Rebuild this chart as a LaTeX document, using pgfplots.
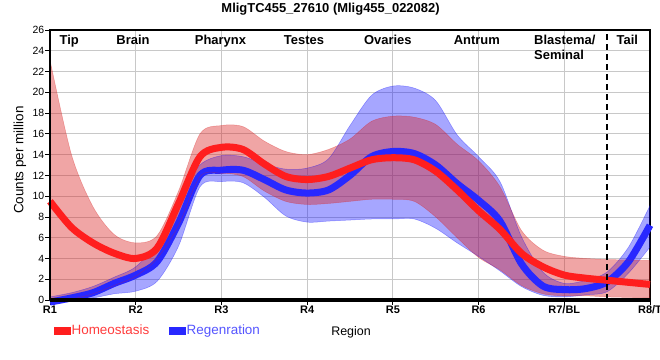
\documentclass[border=0pt]{standalone}
\usepackage{pgfplots}
\pgfplotsset{compat=1.18}
\usepackage{pgfplotstable}
\usepgfplotslibrary{fillbetween}
\usepackage{fontspec}
\setmainfont{Liberation Sans}
\definecolor{hline}{RGB}{255,30,30}
\definecolor{hband}{RGB}{217,30,30}
\definecolor{rline}{RGB}{40,40,255}
\definecolor{rband}{RGB}{0,0,255}
\definecolor{htext}{RGB}{255,60,60}
\definecolor{rtext}{RGB}{85,85,255}
\definecolor{gridc}{RGB}{200,200,200}

\pgfplotstableread{
x up mean lo
0 23.1 9.5 0
0.25 14.0 7.0 0.1
0.5 9.0 5.5 0.6
0.75 6.3 4.5 1.4
1 5.5 4.0 2.3
1.25 6.2 5.0 4.0
1.5 10.5 9.3 7.2
1.75 16.0 13.8 11.9
2 16.8 14.7 12.2
2.25 16.7 14.5 11.9
2.5 15.3 13.1 10.5
2.75 14.3 11.9 9.5
3 14.0 11.6 9.2
3.25 14.5 11.9 9.3
3.5 15.5 12.7 9.5
3.75 17.2 13.5 9.7
4 17.7 13.7 9.7
4.25 17.6 13.5 9.5
4.5 16.9 12.4 8.0
4.75 15.0 10.6 6.0
5 13.4 8.6 4.1
5.25 10.9 6.8 2.9
5.5 6.7 4.5 1.4
5.75 4.8 3.2 0.6
6 4.2 2.4 0.4
6.25 4.0 2.1 0.4
6.5 3.9 1.9 0.3
6.75 3.85 1.7 0.25
7 3.8 1.5 0.2
}\homeo

\pgfplotstableread{
x up mean lo
0 0.3 -0.2 0
0.25 0.7 0.2 0
0.5 1.3 0.7 0.2
0.75 2.2 1.6 0.6
1 3.2 2.4 0.85
1.25 5.5 3.7 1.8
1.5 9.8 7.4 5.2
1.75 13.0 12.0 10.9
2 13.9 12.5 11.4
2.25 13.8 12.5 11.3
2.5 13.1 11.6 9.9
2.75 12.6 10.6 8.1
3 12.7 10.3 7.5
3.25 13.6 10.6 7.6
3.5 16.8 12.0 7.7
3.75 19.7 13.8 7.8
4 20.6 14.3 7.8
4.25 20.4 14.1 7.8
4.5 19.2 13.0 6.9
4.75 15.9 11.2 5.5
5 13.8 9.6 4.2
5.25 11.4 7.6 2.8
5.5 6.1 3.5 1.3
5.75 2.7 1.35 0.45
6 1.6 1.0 0.3
6.25 1.9 1.1 0.5
6.5 2.7 1.75 0.8
6.75 5.1 3.7 2.6
7 9.1 7.2 5.1
}\regen

\begin{document}
\begin{tikzpicture}
\begin{axis}[
  name=ax, scale only axis, width=600bp, height=270bp,
  xmin=0, xmax=7, ymin=0, ymax=26,
  xtick={0,1,...,7}, xticklabels={R1,R2,R3,R4,R5,R6,R7/BL,R8/T},
  ytick={0,2,...,26},
  grid=major, grid style={gridc, line width=0.8bp},
  axis line style={line width=1.7bp},
  tick pos=left, tick align=outside, major tick length=4.5bp,
  tick style={black, line width=0.8bp},
  xticklabel style={font=\fontsize{11}{13}\selectfont\bfseries, inner sep=1pt},
  yticklabel style={font=\fontsize{10.5}{12}\selectfont, inner sep=1pt},
  /pgf/number format/assume math mode=true,
  clip=false,
  xlabel={Region},
  xlabel style={at={(axis description cs:0.5017,-0.1333)}, anchor=base, font=\fontsize{12.5}{14}\selectfont},
  ylabel={Counts per million},
  ylabel style={at={(axis description cs:-0.05,0.518)}, anchor=center, font=\fontsize{13.5}{15}\selectfont},
  legend columns=2,
  legend style={draw=none, fill=none, at={(axis description cs:0.0058,-0.113)}, anchor=west, inner sep=0pt,
    nodes={inner sep=1.5pt}, /tikz/column 2/.style={column sep=18bp}},
  legend image code/.code={\fill[#1] (0bp,-3.5bp) rectangle (16bp,3.5bp);},
]
\addlegendimage{hline}
\addlegendentry{\fontsize{13.5}{15}\selectfont\textcolor{htext}{Homeostasis}}
\addlegendimage{rline}
\addlegendentry{\fontsize{13.5}{15}\selectfont\textcolor{rtext}{Regenration}}

% regeneration band + mean
\addplot[name path=rup, draw=rband, draw opacity=0.35, line width=0.5bp, smooth, forget plot] table[x=x,y=up]{\regen};
\addplot[name path=rlo, draw=rband, draw opacity=0.35, line width=0.5bp, smooth, forget plot] table[x=x,y=lo]{\regen};
\addplot[fill=rband, fill opacity=0.35, draw=none, forget plot] fill between[of=rup and rlo];
\addplot[rline, line width=7bp, smooth, forget plot] table[x=x,y=mean]{\regen};

% homeostasis band + mean
\addplot[name path=hup, draw=hband, draw opacity=0.35, line width=0.5bp, smooth, forget plot] table[x=x,y=up]{\homeo};
\addplot[name path=hlo, draw=hband, draw opacity=0.35, line width=0.5bp, smooth, forget plot] table[x=x,y=lo]{\homeo};
\addplot[fill=hband, fill opacity=0.4, draw=none, forget plot] fill between[of=hup and hlo];
\addplot[hline, line width=7bp, smooth, forget plot] table[x=x,y=mean]{\homeo};

% separator
\draw[black, line width=2bp, dash pattern=on 6bp off 4bp] (axis cs:6.5,0) -- (axis cs:6.5,26);

% heavier left/bottom axis lines
\draw[black, line width=3.3bp] (rel axis cs:0,0) -- (rel axis cs:1,0);
\draw[black, line width=2.3bp] (rel axis cs:0,0) -- (rel axis cs:0,1);

% region names
\begin{scope}[every node/.style={font=\fontsize{13}{15}\selectfont\bfseries, inner sep=0pt}]
\node[anchor=base] at (axis cs:0.224,24.62) {Tip};
\node[anchor=base] at (axis cs:0.968,24.62) {Brain};
\node[anchor=base] at (axis cs:1.989,24.62) {Pharynx};
\node[anchor=base] at (axis cs:2.963,24.62) {Testes};
\node[anchor=base] at (axis cs:3.941,24.62) {Ovaries};
\node[anchor=base] at (axis cs:4.98,24.62) {Antrum};
\node[anchor=base west] at (axis cs:5.647,24.62) {Blastema/};
\node[anchor=base west] at (axis cs:5.647,23.2) {Seminal};
\node[anchor=base] at (axis cs:6.735,24.62) {Tail};
\node[anchor=base] at (axis cs:3.273,27.7) {MligTC455\_27610 (Mlig455\_022082)};
\end{scope}
\end{axis}
\pgfresetboundingbox
\path ([shift={(-50bp,-60bp)}]ax.south west) rectangle ([shift={(10bp,30bp)}]ax.north east);
\end{tikzpicture}
\end{document}
